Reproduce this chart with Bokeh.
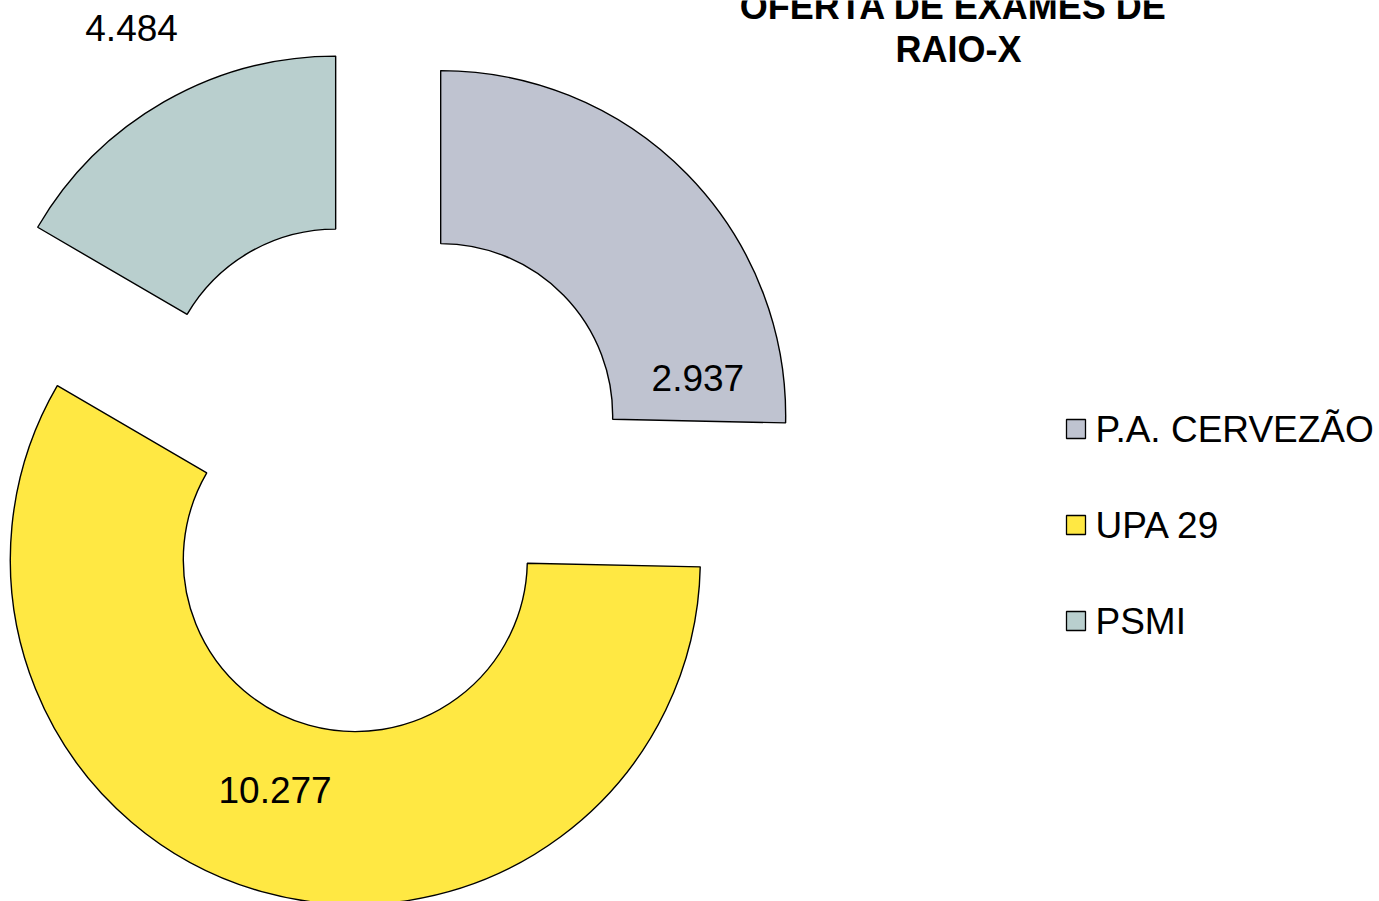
import math
from bokeh.plotting import figure
from bokeh.models import Range1d, ColumnDataSource
from bokeh.core.properties import value
from bokeh.embed import file_html
from bokeh.resources import INLINE

# ---- data ----
categories = ["P.A. CERVEZÃO", "UPA 29", "PSMI"]
# angular shares of the slices as drawn in the reference
slice_values = [4484, 10277, 2937]
# data labels as printed on the slices
label_texts = ["2.937", "10.277", "4.484"]
colors = ["#BFC3D0", "#FFE843", "#B9CFCE"]
title_lines = ["OFERTA DE EXAMES DE", "RAIO-X"]

# ---- layout (screen-like coordinates: x right, y up, 1 unit = 1 px) ----
W, H = 1379, 901
cx, cy = 378.3, H - 475.7
explode = 86.6
r_in, r_out = 172, 345
label_polar = [(8.4, 260), (250.8, 244), (118.7, 425)]  # (deg, radius) from slice centre
FONT = "Liberation Sans"
FS = "37px"

total = float(sum(slice_values))
xs, ys, starts, ends, lx, ly = [], [], [], [], [], []
cum = 0.0
for i, v in enumerate(slice_values):
    a_start = math.radians(90 - 360 * cum / total)
    cum += v
    a_end = math.radians(90 - 360 * cum / total)
    mid = (a_start + a_end) / 2
    sx = cx + explode * math.cos(mid)
    sy = cy + explode * math.sin(mid)
    xs.append(sx); ys.append(sy)
    starts.append(a_end); ends.append(a_start)
    ang, rad = label_polar[i]
    lx.append(sx + rad * math.cos(math.radians(ang)))
    ly.append(sy + rad * math.sin(math.radians(ang)))

src = ColumnDataSource(dict(x=xs, y=ys, s=starts, e=ends, c=colors))

p = figure(width=W, height=H, x_range=Range1d(0, W), y_range=Range1d(0, H),
           output_backend="svg", toolbar_location=None, min_border=0,
           background_fill_color="white", border_fill_color="white")
p.axis.visible = False
p.grid.visible = False
p.outline_line_color = None

p.annular_wedge(x="x", y="y", inner_radius=r_in, outer_radius=r_out,
                start_angle="s", end_angle="e", direction="anticlock",
                fill_color="c", line_color="black", line_width=1.4, source=src)

p.text(x=lx, y=ly, text=label_texts, text_font=value(FONT), text_font_size=FS,
       text_align="center", text_baseline="alphabetic", text_color="black")

# title
p.text(x=[953, 958], y=[H - 6, H - 49], text=title_lines, text_font=value(FONT),
       text_font_size="36px", text_font_style="bold", text_align="center",
       text_baseline="alphabetic", text_color="black")

# legend
leg_y = [H - 428.5 - 96 * i for i in range(len(categories))]
p.rect(x=[1075.5] * 3, y=leg_y, width=19, height=19, fill_color=colors,
       line_color="black", line_width=1.3)
p.text(x=[1095] * 3, y=leg_y, text=categories, text_font=value(FONT),
       text_font_size=FS, text_align="left", text_baseline="alphabetic",
       text_color="black")

open("out.html", "w").write(file_html(p, INLINE))
